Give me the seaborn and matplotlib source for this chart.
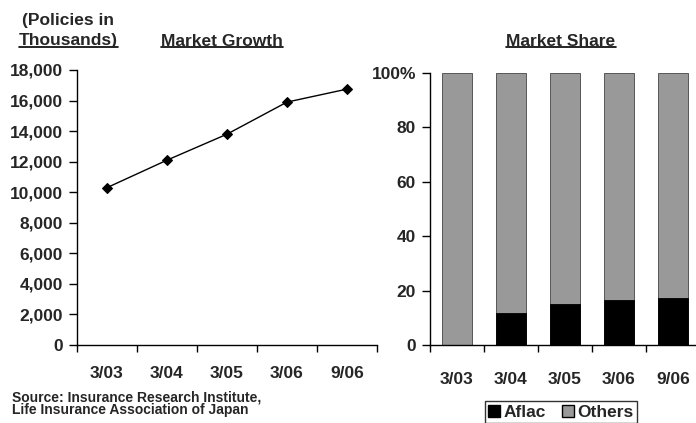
import numpy as np
import pandas as pd
import seaborn as sns
import matplotlib.pyplot as plt
from matplotlib.lines import Line2D
from matplotlib.patches import Patch

periods = ["3/03", "3/04", "3/05", "3/06", "9/06"]
policies = [10300, 12100, 13800, 15900, 16750]
aflac_share = [0, 11.9, 15.1, 16.4, 17.3]
others_share = [100, 100, 100, 100, 100]
growth_ticks = list(range(0, 18001, 2000))
share_ticks = [0, 20, 40, 60, 80, 100]
share_labels = ["0", "20", "40", "60", "80", "100%"]

sns.set_theme(style="white")
plt.rcParams["font.family"] = ["Liberation Sans", "DejaVu Sans"]
plt.rcParams["font.weight"] = "bold"

fig = plt.figure(figsize=(6.96, 4.23), dpi=100)
W, H = 696, 423


def box(x0, x1, ytop, ybot):
    return [x0 / W, (H - ybot) / H, (x1 - x0) / W, (ybot - ytop) / H]


ax1 = fig.add_axes(box(77, 377, 70, 345))
ax2 = fig.add_axes(box(430, 700, 73, 345))

# Market growth line
growth = pd.DataFrame({"Period": periods, "Policies": policies})
sns.lineplot(data=growth, x="Period", y="Policies", ax=ax1, color="black",
             linewidth=1, marker="D", markersize=5, markeredgecolor="black")
ax1.set_xlim(-0.5, len(periods) - 0.5)
ax1.set_ylim(0, 18000)
ax1.set_yticks(growth_ticks)
ax1.set_yticklabels([f"{v:,}" for v in growth_ticks])

# Market share stacked bars
share = pd.DataFrame({"Period": periods, "Aflac": aflac_share, "Others": others_share})
sns.barplot(data=share, x="Period", y="Others", ax=ax2, color="#999999",
            width=0.57, edgecolor="#444444", linewidth=0.6, saturation=1)
sns.barplot(data=share, x="Period", y="Aflac", ax=ax2, color="black",
            width=0.57, edgecolor="black", linewidth=0.6, saturation=1)
ax2.set_xlim(-0.5, len(periods) - 0.5)
ax2.set_ylim(0, 100)
ax2.set_yticks(share_ticks)
ax2.set_yticklabels(share_labels)

for ax, pad in ((ax1, 15), (ax2, 19.5)):
    ax.set_xlabel("")
    ax.set_ylabel("")
    sns.despine(ax=ax)
    for s in ("left", "bottom"):
        ax.spines[s].set_color("black")
        ax.spines[s].set_linewidth(1)
    ax.set_xticks(range(len(periods)))
    ax.set_xticklabels(periods)
    ax.set_xticks(np.arange(-0.5, len(periods), 1), minor=True)
    ax.tick_params(axis="x", which="major", length=0, pad=pad, labelsize=12.5)
    ax.tick_params(axis="x", which="minor", length=5, width=1, color="black",
                   direction="out", bottom=True)
    ax.tick_params(axis="y", length=6, width=1, color="black", direction="out",
                   left=True, pad=4, labelsize=12.5)
    for lbl in ax.get_xticklabels() + ax.get_yticklabels():
        lbl.set_fontweight("bold")

ax2.legend(handles=[Patch(facecolor="black", edgecolor="black", label="Aflac"),
                    Patch(facecolor="#999999", edgecolor="black", label="Others")],
           loc="upper center", bbox_to_anchor=(0.485, -0.206), ncol=2,
           frameon=True, fancybox=False, edgecolor="black", borderaxespad=0,
           handlelength=0.7, handleheight=0.7, handletextpad=0.2,
           columnspacing=0.9, borderpad=0.2, prop={"weight": "bold", "size": 12.5})
ax2.get_legend().get_frame().set_linewidth(1)

# Titles and notes
t1 = fig.text(222 / W, 1 - 41 / H, "Market Growth", ha="center", va="center",
              fontsize=12.5, fontweight="bold")
t2 = fig.text(561 / W, 1 - 41 / H, "Market Share", ha="center", va="center",
              fontsize=12.5, fontweight="bold")
fig.text(68 / W, 1 - 20 / H, "(Policies in", ha="center", va="center",
         fontsize=12.5, fontweight="bold")
t3 = fig.text(68 / W, 1 - 41 / H, "Thousands)", ha="center", va="center",
              fontsize=12.5, fontweight="bold")
fig.text(12 / W, 1 - 404 / H,
         "Source: Insurance Research Institute,\nLife Insurance Association of Japan",
         ha="left", va="center", fontsize=10, fontweight="bold", linespacing=0.9)

# Underlines
fig.canvas.draw()
renderer = fig.canvas.get_renderer()
for t in (t1, t2, t3):
    bb = t.get_window_extent(renderer).transformed(fig.transFigure.inverted())
    y = bb.y0 + 0.004
    fig.add_artist(Line2D([bb.x0, bb.x1], [y, y], color="black", linewidth=1.2,
                          transform=fig.transFigure))

fig.savefig("out.png", dpi=100)
